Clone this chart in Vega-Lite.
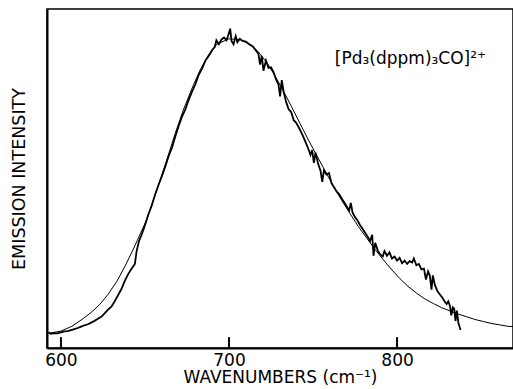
{
  "$schema": "https://vega.github.io/schema/vega-lite/v6.json",
  "width": 466,
  "height": 339,
  "autosize": {"type": "none"},
  "padding": {"left": 47, "top": 9, "right": 0, "bottom": 41},
  "background": "white",
  "config": {
    "view": {"stroke": "black", "strokeWidth": 1.5},
    "axis": {"labelFont": "DejaVu Sans", "titleFont": "DejaVu Sans", "labelColor": "black", "titleColor": "black", "titleFontWeight": "normal", "domainColor": "black", "tickColor": "black", "grid": false}
  },
  "datasets": {
    "observed": [
      {"wn": 592.5, "I": 4.6}, {"wn": 594, "I": 4.2}, {"wn": 596, "I": 4.4}, {"wn": 598, "I": 4.3}, {"wn": 600, "I": 4.6},
      {"wn": 602, "I": 4.9}, {"wn": 604, "I": 5.0}, {"wn": 606, "I": 5.3}, {"wn": 608, "I": 5.6}, {"wn": 610, "I": 5.9},
      {"wn": 612, "I": 6.3}, {"wn": 614, "I": 6.7}, {"wn": 616, "I": 7.0}, {"wn": 618, "I": 7.5}, {"wn": 620, "I": 8.0},
      {"wn": 622, "I": 8.6}, {"wn": 624, "I": 9.2}, {"wn": 626, "I": 10.2}, {"wn": 628, "I": 11.3}, {"wn": 630, "I": 12.2},
      {"wn": 632, "I": 13.8}, {"wn": 634, "I": 15.6}, {"wn": 636, "I": 17.4}, {"wn": 638, "I": 19.8}, {"wn": 640, "I": 21.8},
      {"wn": 642, "I": 23.4}, {"wn": 644, "I": 24.8}, {"wn": 645, "I": 28.5}, {"wn": 646.5, "I": 31.6}, {"wn": 648, "I": 33.4},
      {"wn": 650, "I": 36.2}, {"wn": 652, "I": 39.4}, {"wn": 654, "I": 42.0}, {"wn": 656, "I": 45.2}, {"wn": 658, "I": 48.0},
      {"wn": 660, "I": 50.6}, {"wn": 662, "I": 53.4}, {"wn": 664, "I": 56.5}, {"wn": 666, "I": 59.0}, {"wn": 668, "I": 62.3},
      {"wn": 670, "I": 65.4}, {"wn": 672, "I": 68.2}, {"wn": 674, "I": 70.4}, {"wn": 676, "I": 73.2}, {"wn": 678, "I": 75.6},
      {"wn": 680, "I": 77.8}, {"wn": 682, "I": 80.6}, {"wn": 684, "I": 82.4}, {"wn": 686, "I": 84.8}, {"wn": 688, "I": 86.2},
      {"wn": 690, "I": 87.9}, {"wn": 691.5, "I": 88.8}, {"wn": 692.5, "I": 90.8}, {"wn": 694, "I": 89.6}, {"wn": 695.5, "I": 91.0},
      {"wn": 697, "I": 91.6}, {"wn": 698.5, "I": 90.8}, {"wn": 699.5, "I": 92.2}, {"wn": 700.7, "I": 94.2}, {"wn": 701.5, "I": 90.6},
      {"wn": 702.7, "I": 89.6}, {"wn": 704, "I": 92.0}, {"wn": 705, "I": 90.2}, {"wn": 706.5, "I": 91.2}, {"wn": 708, "I": 90.6},
      {"wn": 710, "I": 90.4}, {"wn": 712, "I": 89.6}, {"wn": 714, "I": 89.0}, {"wn": 716, "I": 87.8}, {"wn": 717.5, "I": 86.8},
      {"wn": 718.5, "I": 83.6}, {"wn": 719.5, "I": 86.2}, {"wn": 720.5, "I": 81.8}, {"wn": 722, "I": 84.8}, {"wn": 723.5, "I": 82.6},
      {"wn": 725, "I": 82.8}, {"wn": 726.5, "I": 81.4}, {"wn": 728, "I": 79.2}, {"wn": 729.5, "I": 77.6}, {"wn": 730.4, "I": 74.2},
      {"wn": 731.4, "I": 79.0}, {"wn": 732.5, "I": 75.6}, {"wn": 734, "I": 72.6}, {"wn": 735.5, "I": 70.4}, {"wn": 737, "I": 69.6},
      {"wn": 738.5, "I": 67.2}, {"wn": 740, "I": 66.4}, {"wn": 742, "I": 64.6}, {"wn": 744, "I": 62.6}, {"wn": 745.5, "I": 60.8},
      {"wn": 747, "I": 59.0}, {"wn": 748.5, "I": 57.0}, {"wn": 749.5, "I": 58.4}, {"wn": 750.5, "I": 54.6}, {"wn": 751.5, "I": 57.6},
      {"wn": 753, "I": 54.4}, {"wn": 754.5, "I": 52.2}, {"wn": 755.5, "I": 49.0}, {"wn": 756.5, "I": 52.4}, {"wn": 758, "I": 51.2},
      {"wn": 759.5, "I": 51.6}, {"wn": 761, "I": 48.6}, {"wn": 762.5, "I": 47.4}, {"wn": 764, "I": 46.2}, {"wn": 765.5, "I": 45.4},
      {"wn": 767, "I": 44.2}, {"wn": 768.5, "I": 43.0}, {"wn": 770, "I": 41.8}, {"wn": 771.5, "I": 40.6}, {"wn": 772.5, "I": 42.8},
      {"wn": 773.5, "I": 40.0}, {"wn": 775, "I": 38.6}, {"wn": 776.5, "I": 37.6}, {"wn": 778, "I": 36.2}, {"wn": 779.5, "I": 35.2},
      {"wn": 781, "I": 34.0}, {"wn": 782.5, "I": 32.8}, {"wn": 784, "I": 31.6}, {"wn": 785.2, "I": 33.4}, {"wn": 786, "I": 27.2},
      {"wn": 787, "I": 31.0}, {"wn": 788.5, "I": 28.8}, {"wn": 790, "I": 27.6}, {"wn": 791.5, "I": 27.0}, {"wn": 792.5, "I": 28.6},
      {"wn": 794, "I": 27.2}, {"wn": 795.5, "I": 28.2}, {"wn": 797, "I": 26.4}, {"wn": 798.5, "I": 27.0}, {"wn": 800, "I": 25.8},
      {"wn": 801.5, "I": 26.6}, {"wn": 803, "I": 25.0}, {"wn": 804.5, "I": 25.8}, {"wn": 806, "I": 24.8}, {"wn": 807.5, "I": 25.6},
      {"wn": 809, "I": 25.2}, {"wn": 810, "I": 26.4}, {"wn": 811.5, "I": 24.4}, {"wn": 813, "I": 24.8}, {"wn": 814.5, "I": 23.2},
      {"wn": 816, "I": 23.4}, {"wn": 817.2, "I": 20.2}, {"wn": 818.5, "I": 22.6}, {"wn": 819.5, "I": 21.4}, {"wn": 820.5, "I": 17.2},
      {"wn": 821.3, "I": 21.4}, {"wn": 822.5, "I": 18.6}, {"wn": 824, "I": 16.8}, {"wn": 825.5, "I": 15.8}, {"wn": 827, "I": 14.8},
      {"wn": 828.5, "I": 13.6}, {"wn": 829.5, "I": 13.0}, {"wn": 830.5, "I": 13.8}, {"wn": 831.5, "I": 12.4}, {"wn": 832.3, "I": 9.6},
      {"wn": 833.2, "I": 12.0}, {"wn": 834, "I": 11.6}, {"wn": 834.8, "I": 8.0}, {"wn": 835.6, "I": 11.0}, {"wn": 836.5, "I": 7.4},
      {"wn": 837.8, "I": 5.3}
    ],
    "fit": [
      {"wn": 593.5, "I": 4.4}, {"wn": 600, "I": 5.0}, {"wn": 606.5, "I": 6.4}, {"wn": 613.3, "I": 8.7}, {"wn": 618, "I": 10.5},
      {"wn": 623.2, "I": 12.9}, {"wn": 628, "I": 15.8}, {"wn": 633.2, "I": 19.6}, {"wn": 638, "I": 24.0}, {"wn": 643.1, "I": 29.2},
      {"wn": 651.0, "I": 37.8}, {"wn": 657, "I": 46.6}, {"wn": 663.0, "I": 55.5}, {"wn": 668, "I": 63.3}, {"wn": 672.8, "I": 70.2},
      {"wn": 678, "I": 76.6}, {"wn": 682.8, "I": 82.0}, {"wn": 688, "I": 86.6}, {"wn": 692.7, "I": 89.6}, {"wn": 699.9, "I": 91.2},
      {"wn": 706.6, "I": 91.0}, {"wn": 712.5, "I": 89.6}, {"wn": 717, "I": 87.6}, {"wn": 722.5, "I": 84.2}, {"wn": 727, "I": 80.6},
      {"wn": 732.4, "I": 75.8}, {"wn": 737, "I": 71.4}, {"wn": 742.3, "I": 66.2}, {"wn": 747, "I": 61.6}, {"wn": 752.2, "I": 56.8},
      {"wn": 757, "I": 52.4}, {"wn": 762.1, "I": 47.8}, {"wn": 767, "I": 43.6}, {"wn": 772.1, "I": 39.6}, {"wn": 777, "I": 35.8},
      {"wn": 782.0, "I": 32.4}, {"wn": 787, "I": 29.0}, {"wn": 791.9, "I": 26.0}, {"wn": 797, "I": 23.0}, {"wn": 801.8, "I": 20.4},
      {"wn": 806.5, "I": 18.2}, {"wn": 811.8, "I": 16.1}, {"wn": 816.5, "I": 14.5}, {"wn": 821.7, "I": 13.1}, {"wn": 826.5, "I": 11.9},
      {"wn": 831.6, "I": 10.9}, {"wn": 836.5, "I": 10.0}, {"wn": 841.5, "I": 9.2}, {"wn": 846.5, "I": 8.4}, {"wn": 851.4, "I": 7.8},
      {"wn": 856.5, "I": 7.2}, {"wn": 861.4, "I": 6.8}, {"wn": 866, "I": 6.4}, {"wn": 869, "I": 6.3}
    ],
    "ticks": [
      {"wn": 600, "I0": 0, "I1": 3.2}, {"wn": 700, "I0": 0, "I1": 3.2}, {"wn": 800, "I0": 0, "I1": 3.2}
    ],
    "label": [
      {"wn": 763, "I": 85.2, "text": "[Pd₃(dppm)₃CO]²⁺"}
    ]
  },
  "layer": [
    {
      "data": {"name": "fit"},
      "mark": {"type": "line", "color": "black", "strokeWidth": 1, "clip": true},
      "encoding": {
        "x": {"field": "wn", "type": "quantitative", "scale": {"domain": [591.7, 869], "nice": false, "zero": false},
          "axis": {"values": [600, 700, 800], "ticks": false, "domainWidth": 2, "labelFontSize": 17, "labelPadding": 4, "title": "WAVENUMBERS (cm⁻¹)", "titleFontSize": 17, "titlePadding": 1, "labelFlush": false}},
        "y": {"field": "I", "type": "quantitative", "scale": {"domain": [0, 100], "nice": false},
          "axis": {"ticks": false, "labels": false, "domainWidth": 2, "title": "EMISSION INTENSITY", "titleFontSize": 17.5, "titlePadding": 19}}
      }
    },
    {
      "data": {"name": "ticks"},
      "mark": {"type": "rule", "color": "black", "strokeWidth": 2},
      "encoding": {
        "x": {"field": "wn", "type": "quantitative"},
        "y": {"field": "I0", "type": "quantitative"},
        "y2": {"field": "I1"}
      }
    },
    {
      "data": {"name": "observed"},
      "mark": {"type": "line", "color": "black", "strokeWidth": 1.8, "strokeJoin": "miter", "clip": true},
      "encoding": {
        "x": {"field": "wn", "type": "quantitative"},
        "y": {"field": "I", "type": "quantitative"}
      }
    },
    {
      "data": {"name": "label"},
      "mark": {"type": "text", "align": "left", "baseline": "middle", "font": "DejaVu Sans", "fontSize": 17, "color": "black"},
      "encoding": {
        "x": {"field": "wn", "type": "quantitative"},
        "y": {"field": "I", "type": "quantitative"},
        "text": {"field": "text"}
      }
    }
  ]
}
